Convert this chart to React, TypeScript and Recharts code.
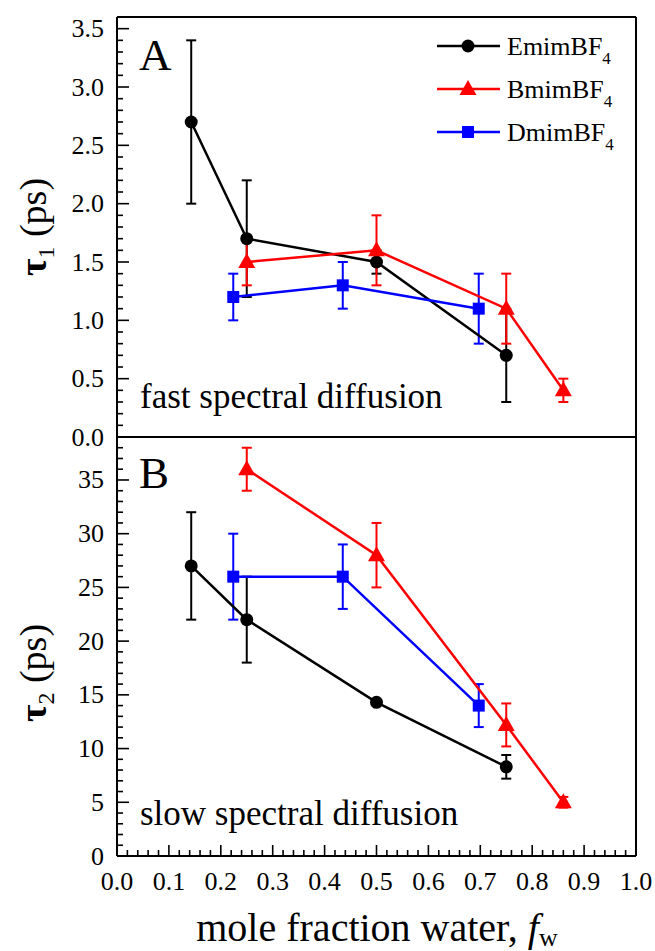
import React from "react";
import { ScatterChart, Scatter, XAxis, YAxis, ErrorBar, ReferenceLine } from "recharts";

// ---- data ----
const xEmim = [0.143, 0.25, 0.5, 0.75];
const xBmim = [0.25, 0.5, 0.75, 0.86];
const xDmim = [0.224, 0.435, 0.697];

const tau1Emim = [2.7, 1.7, 1.5, 0.7];
const tau1EmimErr = [0.7, 0.5, 0.1, 0.4];
const tau1Bmim = [1.5, 1.6, 1.1, 0.4];
const tau1BmimErr = [0.2, 0.3, 0.3, 0.1];
const tau1Dmim = [1.2, 1.3, 1.1];
const tau1DmimErr = [0.2, 0.2, 0.3];

const tau2Emim = [27, 22, 14.3, 8.3];
const tau2EmimErr = [5, 4, 0, 1.1];
const tau2Bmim = [36, 28, 12.2, 5.0];
const tau2BmimErr = [2, 3, 2, 0.5];
const tau2Dmim = [26, 26, 14];
const tau2DmimErr = [4, 3, 2];

const xMajorTicks = [0, 0.1, 0.2, 0.3, 0.4, 0.5, 0.6, 0.7, 0.8, 0.9, 1.0];
const yAMajorTicks = [0, 0.5, 1.0, 1.5, 2.0, 2.5, 3.0, 3.5];
const yBMajorTicks = [0, 5, 10, 15, 20, 25, 30, 35];

const seriesNames = ["EmimBF", "BmimBF", "DmimBF"];
const seriesColors = ["#000000", "#ff0000", "#0000ff"];

// ---- helpers ----
const toPts = (xs: number[], ys: number[], es: number[]) =>
  xs.map((x, i) => ({ x, y: ys[i], e: es[i] }));

const subdivide = (major: number[], n: number) => {
  const out: number[] = [];
  for (let i = 0; i < major.length - 1; i++) {
    const a = major[i];
    const b = major[i + 1];
    for (let k = 0; k < n; k++) out.push(+(a + ((b - a) * k) / n).toFixed(6));
  }
  out.push(major[major.length - 1]);
  return out;
};

const xTicks = subdivide(xMajorTicks, 5);
const yATicks = [...subdivide(yAMajorTicks, 5), 3.6];
const yBTicks = [...subdivide(yBMajorTicks, 5), 36, 37, 38];

const isMajor = (v: number, list: number[]) => list.some((m) => Math.abs(m - v) < 1e-6);

const FONT = "Liberation Serif, Times New Roman, serif";

const XTick = (props: any) => {
  const { x, y, payload, showLabel } = props;
  const v = payload.value;
  const major = isMajor(v, xMajorTicks);
  return (
    <g>
      <line x1={x} y1={y} x2={x} y2={y - (major ? 11 : 6)} stroke="#000" strokeWidth={1.6} />
      {showLabel && major ? (
        <text x={x} y={y + 34} textAnchor="middle" fontFamily={FONT} fontSize={26} fill="#000">
          {v.toFixed(1)}
        </text>
      ) : null}
    </g>
  );
};

const YTick = (props: any) => {
  const { x, y, payload, majors, digits } = props;
  const v = payload.value;
  const major = isMajor(v, majors);
  return (
    <g>
      <line x1={x} y1={y} x2={x + (major ? 12 : 6)} y2={y} stroke="#000" strokeWidth={1.6} />
      {major ? (
        <text x={x - 13} y={y + 8.5} textAnchor="end" fontFamily={FONT} fontSize={26} fill="#000">
          {v.toFixed(digits)}
        </text>
      ) : null}
    </g>
  );
};

const Circle = (p: any) => <circle cx={p.cx} cy={p.cy} r={6.5} fill="#000" />;
const Tri = (p: any) => (
  <polygon
    points={`${p.cx},${p.cy - 9} ${p.cx - 8.5},${p.cy + 6} ${p.cx + 8.5},${p.cy + 6}`}
    fill="#ff0000"
  />
);
const Sq = (p: any) => <rect x={p.cx - 6} y={p.cy - 6} width={12} height={12} fill="#0000ff" />;

const shapes = [Circle, Tri, Sq];

type Panel = {
  data: { x: number; y: number; e: number }[][];
  domain: [number, number];
  ticks: number[];
  majors: number[];
  digits: number;
  showX: boolean;
};

const renderPanel = (panel: Panel, height: number, marginBottom: number, xHeight: number) => (
  <ScatterChart
    width={655}
    height={height}
    margin={{ top: 17, right: 19, bottom: marginBottom, left: 0 }}
  >
    <XAxis
      type="number"
      dataKey="x"
      domain={[0, 1]}
      ticks={xTicks}
      interval={0}
      height={xHeight}
      tickSize={0}
      tickMargin={0}
      tickLine={false}
      axisLine={{ stroke: "#000", strokeWidth: 2 }}
      tick={<XTick showLabel={panel.showX} />}
      allowDataOverflow
    />
    <YAxis
      type="number"
      dataKey="y"
      domain={panel.domain}
      ticks={panel.ticks}
      interval={0}
      width={117}
      tickSize={0}
      tickMargin={0}
      tickLine={false}
      axisLine={{ stroke: "#000", strokeWidth: 2 }}
      tick={<YTick majors={panel.majors} digits={panel.digits} />}
      allowDataOverflow
    />
    <ReferenceLine x={1} stroke="#000" strokeWidth={2} ifOverflow="visible" />
    <ReferenceLine y={panel.domain[1]} stroke="#000" strokeWidth={2} ifOverflow="visible" />
    {panel.data.map((d, i) => (
      <Scatter
        key={i}
        name={seriesNames[i]}
        data={d}
        fill={seriesColors[i]}
        line={{ stroke: seriesColors[i], strokeWidth: 2.5 }}
        lineType="joint"
        shape={shapes[i]}
        isAnimationActive={false}
      >
        <ErrorBar dataKey="e" direction="y" width={5} stroke={seriesColors[i]} strokeWidth={2} />
      </Scatter>
    ))}
  </ScatterChart>
);

const panelA: Panel = {
  data: [
    toPts(xEmim, tau1Emim, tau1EmimErr),
    toPts(xBmim, tau1Bmim, tau1BmimErr),
    toPts(xDmim, tau1Dmim, tau1DmimErr),
  ],
  domain: [0, 3.6],
  ticks: yATicks,
  majors: yAMajorTicks,
  digits: 1,
  showX: false,
};

const panelB: Panel = {
  data: [
    toPts(xEmim, tau2Emim, tau2EmimErr),
    toPts(xBmim, tau2Bmim, tau2BmimErr),
    toPts(xDmim, tau2Dmim, tau2DmimErr),
  ],
  domain: [0, 39],
  ticks: yBTicks,
  majors: yBMajorTicks,
  digits: 0,
  showX: true,
};

const legendRows = [0, 1, 2];

export default function App() {
  return (
    <div style={{ position: "absolute", left: 0, top: 0, width: 655, height: 951, background: "#fff" }}>
      <div style={{ position: "absolute", left: 0, top: 420 }}>{renderPanel(panelB, 531, 0, 95)}</div>
      <div style={{ position: "absolute", left: 0, top: 0 }}>{renderPanel(panelA, 460, 23, 0)}</div>
      <svg
        width={655}
        height={951}
        style={{ position: "absolute", left: 0, top: 0, pointerEvents: "none" }}
      >
        <text x={139} y={70} fontFamily={FONT} fontSize={45} fill="#000">A</text>
        <text x={139} y={488} fontFamily={FONT} fontSize={45} fill="#000">B</text>
        <text x={140} y={408} fontFamily={FONT} fontSize={35} fill="#000">fast spectral diffusion</text>
        <text x={140} y={825} fontFamily={FONT} fontSize={35} fill="#000">slow spectral diffusion</text>
        {legendRows.map((i) => {
          const cy = 46 + i * 43;
          const Shape = shapes[i];
          return (
            <g key={i}>
              <line x1={437} y1={cy} x2={500} y2={cy} stroke={seriesColors[i]} strokeWidth={2.5} />
              <Shape cx={468} cy={cy} />
              <text x={507} y={cy + 9} fontFamily={FONT} fontSize={26} fill="#000">
                {seriesNames[i]}
                <tspan fontSize={17} dy={9}>4</tspan>
              </text>
            </g>
          );
        })}
        <text transform="translate(46,227) rotate(-90)" textAnchor="middle" fontFamily={FONT} fontSize={38} fill="#000">
          <tspan fontWeight="bold">τ</tspan>
          <tspan fontSize={24} dy={8}>1</tspan>
          <tspan dy={-8}> (ps)</tspan>
        </text>
        <text transform="translate(46,673) rotate(-90)" textAnchor="middle" fontFamily={FONT} fontSize={38} fill="#000">
          <tspan fontWeight="bold">τ</tspan>
          <tspan fontSize={24} dy={8}>2</tspan>
          <tspan dy={-8}> (ps)</tspan>
        </text>
        <text x={377} y={941} textAnchor="middle" fontFamily={FONT} fontSize={40} fill="#000">
          mole fraction water,{" "}
          <tspan fontStyle="italic">f</tspan>
          <tspan fontSize={26} dy={5}>w</tspan>
        </text>
      </svg>
    </div>
  );
}
